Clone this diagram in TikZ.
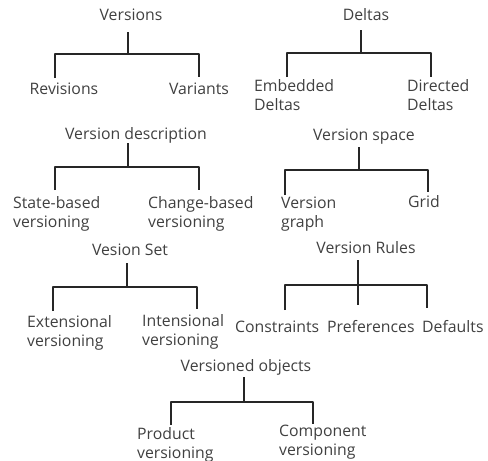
\documentclass[tikz,border=0pt]{standalone}
\usepackage{fontspec}
\setmainfont{Open Sans}
\usepackage{xcolor}

\begin{document}
\begin{tikzpicture}
  [x=1pt,y=-1pt,every node/.style={inner sep=0pt,text=black!75,align=left,
    font=\fontsize{15.8}{19}\selectfont},
   branch/.style={draw=black!85,line width=1.7pt,line join=round}]
  \useasboundingbox (0,0) rectangle (488,461);

  % heads
  \node (ver) at (131,15) {Versions};
  \node (del) at (366,15) {Deltas};
  \node (vdesc) at (136,135) {Version description};
  \node (vspace) at (364,137) {Version space};
  \node (vset) at (130,250) {Vesion Set};
  \node (vrules) at (366,248) {Version Rules};
  \node (vobj) at (246,367) {Versioned objects};

  % leaves
  \node (rev) at (64,89) {Revisions};
  \node (var) at (199,89) {Variants};
  \node[anchor=west] (emb) at (254,95) {Embedded\\Deltas};
  \node[anchor=west] (dir) at (407,95) {Directed\\Deltas};
  \node[anchor=west] (state) at (13,214) {State-based\\versioning};
  \node[anchor=west] (change) at (148,214) {Change-based\\versioning};
  \node[anchor=west] (vgraph) at (281,214.5) {Version\\graph};
  \node (grid) at (424,202) {Grid};
  \node[anchor=west] (ext) at (27,332.5) {Extensional\\versioning};
  \node[anchor=west] (int) at (142,332) {Intensional\\versioning};
  \node[anchor=west] (constr) at (235,327) {Constraints};
  \node[anchor=west] (pref) at (327,327) {Preferences};
  \node[anchor=west] (defa) at (422,327) {Defaults};
  \node[anchor=west] (prod) at (137,445) {Product\\versioning};
  \node[anchor=west] (comp) at (279,442.5) {Component\\versioning};

  % branch points
  \coordinate (t1) at (128,32);  \coordinate (j1) at (128,54);
  \coordinate (l1) at (55,78);   \coordinate (r1) at (199,77);
  \coordinate (t2) at (361,30);  \coordinate (j2) at (361,53);
  \coordinate (l2) at (287,77);  \coordinate (r2) at (431,77);
  \coordinate (t3) at (128,143); \coordinate (j3) at (128,167);
  \coordinate (l3) at (55,190);  \coordinate (r3) at (199,190);
  \coordinate (t4) at (359,147); \coordinate (j4) at (359,170);
  \coordinate (l4) at (285,195); \coordinate (r4) at (428,192);
  \coordinate (t5) at (127,263); \coordinate (j5) at (127,287);
  \coordinate (l5) at (53,311);  \coordinate (r5) at (197,309);
  \coordinate (t6) at (358,260); \coordinate (j6) at (358,285);
  \coordinate (l6) at (285,310); \coordinate (r6) at (427,308);
  \coordinate (m6) at (358,305);
  \coordinate (t7) at (244,377); \coordinate (j7) at (244,402);
  \coordinate (l7) at (171,425); \coordinate (r7) at (313,424);

  \foreach \g in {1,...,7}
    \draw[branch] (t\g) -- (j\g) (l\g) |- (j\g) -| (r\g);
  \draw[branch] (j6) -- (m6);

\end{tikzpicture}
\end{document}
